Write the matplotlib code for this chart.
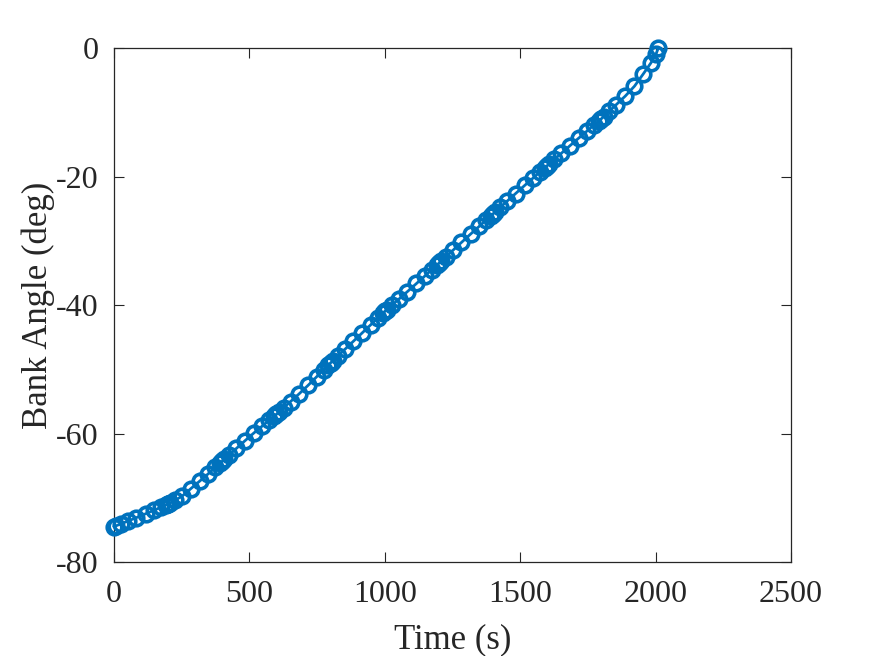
import matplotlib
matplotlib.use("Agg")
import matplotlib.pyplot as plt

# time nodes (s), clustered at the 200 s segment boundaries
time_s = [
    0, 8, 26, 52, 83, 117, 148, 174, 192, 200,
    200, 208, 226, 252, 283, 317, 348, 374, 392, 400,
    400, 408, 426, 452, 483, 517, 548, 574, 592, 600,
    600, 608, 626, 652, 683, 717, 748, 774, 792, 800,
    800, 808, 826, 852, 883, 917, 948, 974, 992, 1000,
    1000, 1008, 1026, 1052, 1083, 1117, 1148, 1174, 1192, 1200,
    1200, 1208, 1226, 1252, 1283, 1317, 1348, 1374, 1392, 1400,
    1400, 1408, 1426, 1452, 1483, 1517, 1548, 1574, 1592, 1600,
    1600, 1608, 1626, 1652, 1683, 1717, 1748, 1774, 1792, 1800,
    1800, 1808, 1828, 1855, 1888, 1922, 1955, 1983, 2002, 2010,
]
bank_deg = [
    -74.5, -74.36, -74.06, -73.62, -73.09, -72.49, -71.94, -71.47, -71.14, -71.0,
    -71.0, -70.81, -70.38, -69.73, -68.61, -67.39, -66.27, -65.29, -64.6, -64.3,
    -64.3, -64.0, -63.31, -62.32, -61.15, -59.9, -58.82, -57.91, -57.28, -57.0,
    -57.0, -56.7, -56.01, -55.02, -53.85, -52.49, -51.18, -50.09, -49.34, -49.0,
    -49.0, -48.68, -47.96, -46.92, -45.68, -44.32, -43.08, -42.04, -41.32, -41.0,
    -41.0, -40.7, -40.04, -39.08, -37.93, -36.65, -35.48, -34.49, -33.8, -33.5,
    -33.5, -33.19, -32.49, -31.47, -30.26, -28.95, -27.78, -26.79, -26.1, -25.8,
    -25.8, -25.5, -24.81, -23.82, -22.65, -21.37, -20.22, -19.26, -18.6, -18.3,
    -18.3, -18.0, -17.34, -16.38, -15.23, -13.99, -12.87, -11.94, -11.29, -11.0,
    -11.0, -10.68, -9.88, -8.8, -7.48, -5.94, -4.0, -2.3, -0.9, 0.0,
]
x_ticks = [0, 500, 1000, 1500, 2000, 2500]
y_ticks = [-80, -60, -40, -20, 0]

plt.rcParams["font.family"] = ["Liberation Serif", "DejaVu Serif"]
plt.rcParams["axes.unicode_minus"] = False

fig = plt.figure(figsize=(8.75, 6.56), dpi=100)
ax = fig.add_axes([0.1303, 0.1433, 0.7737, 0.7835])
ax.plot(time_s, bank_deg, color="#0072BD", linewidth=2, marker="o",
        markersize=10.5, markerfacecolor="none", markeredgewidth=2.6,
        clip_on=False, zorder=3)

ax.set_xlim(0, 2500)
ax.set_ylim(-80, 0)
ax.set_xticks(x_ticks)
ax.set_yticks(y_ticks)
ax.tick_params(direction="in", length=7, width=0.8, top=True, right=True,
               labelsize=23, colors="#262626")
ax.tick_params(axis="x", pad=13)
ax.tick_params(axis="y", pad=11)
for s in ax.spines.values():
    s.set_color("#262626")
    s.set_linewidth(0.9)
ax.set_xlabel("Time (s)", fontsize=25, color="#262626", labelpad=10)
ax.set_ylabel("Bank Angle (deg)", fontsize=25, color="#262626", labelpad=1)

fig.savefig("out.png", dpi=100)
